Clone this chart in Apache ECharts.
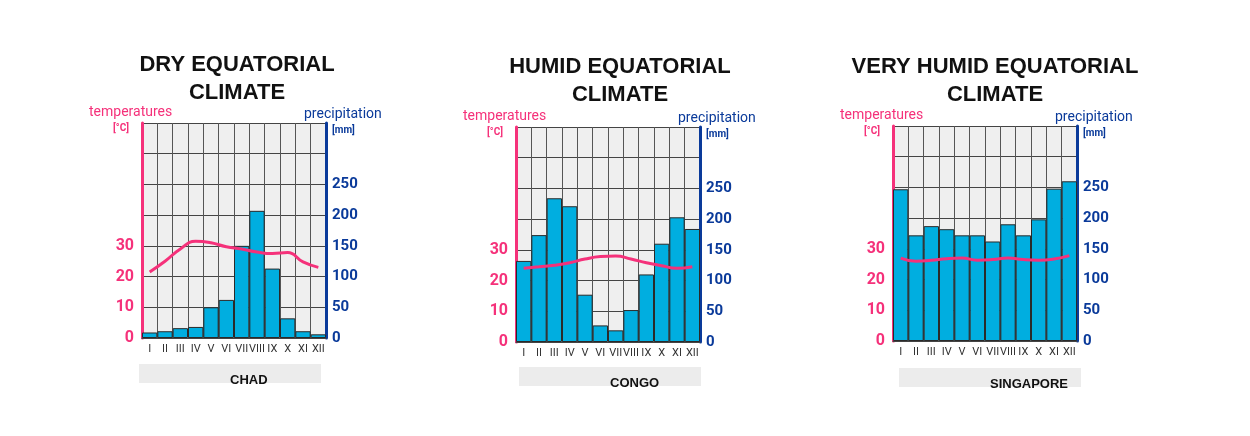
<!DOCTYPE html>
<html><head><meta charset="utf-8">
<script src="https://cdn.jsdelivr.net/npm/echarts@6/dist/echarts.min.js"></script>
<style>html,body{margin:0;background:#fff}#c{width:1250px;height:436px}</style></head>
<body><div id="c"></div>
<script>
const months = ['I','II','III','IV','V','VI','VII','VIII','IX','X','XI','XII'];
const titles = ['DRY EQUATORIAL\nCLIMATE','HUMID EQUATORIAL\nCLIMATE','VERY HUMID EQUATORIAL\nCLIMATE'];
const countries = ['CHAD','CONGO','SINGAPORE'];
const chadPrecip = [9,11,16,18,50,62,150,207,113,32,11,6];
const chadTemp = [21.5,25,29,31.5,31,29.7,29,28,27.5,27.8,24.8,23];
const congoPrecip = [132,174,234,221,77,27,19,52,110,160,203,184];
const congoTemp = [24,24.5,25,25.8,27,27.8,28,27,25.8,24.8,24,24.5];
const singPrecip = [247,172,187,182,172,172,162,190,172,198,248,260];
const singTemp = [27,26,26.3,26.8,27,26.3,26.5,27,26.5,26.3,26.7,27.8];
const precipTicks = [0,50,100,150,200,250];
const tempTicks = [0,10,20,30];

const precips=[chadPrecip,congoPrecip,singPrecip], temps=[chadTemp,congoTemp,singTemp];
const L=[{x:142,top:123,tx:232,ty:46,bx:139,by:364},{x:516,top:127,tx:615,ty:48,bx:519,by:367},{x:893,top:126,tx:990,ty:48,bx:899,by:368}];
const W=184,H=215;
const PINK='#f5317a', BLUE='#0a3a9a', BAR='#00aee0';
const grid=[],xAxis=[],yAxis=[],series=[],graphic=[],title=[];
L.forEach((p,i)=>{
  grid.push({left:p.x,top:p.top,width:W,height:H,show:true,backgroundColor:'#efefef',borderWidth:0});
  xAxis.push({type:'category',gridIndex:i,data:months,axisTick:{show:false},
    axisLine:{lineStyle:{color:'#444',width:1}},
    axisLabel:{color:'#333',fontSize:11,fontFamily:'Roboto',margin:6,interval:0},
    splitLine:{show:true,interval:0,lineStyle:{color:'#555',width:1}}});
  yAxis.push({type:'value',gridIndex:i,min:0,max:70,interval:10,position:'left',
    axisLine:{show:true,lineStyle:{color:PINK,width:3}},axisTick:{show:false},splitLine:{show:false},
    axisLabel:{color:PINK,fontSize:16,fontWeight:'bold',fontFamily:'Roboto',margin:8,
      formatter:v=>tempTicks.includes(v)?String(v):''}});
  yAxis.push({type:'value',gridIndex:i,min:0,max:350,interval:50,position:'right',
    axisLine:{show:true,lineStyle:{color:BLUE,width:3}},axisTick:{show:false},
    splitLine:{show:true,lineStyle:{color:'#444',width:1}},
    axisLabel:{color:BLUE,fontSize:15,fontWeight:'bold',fontFamily:'Roboto',margin:6,
      formatter:v=>precipTicks.includes(v)?String(v):''}});
  series.push({type:'bar',xAxisIndex:i,yAxisIndex:2*i+1,data:precips[i],barCategoryGap:'0%',
    itemStyle:{color:BAR,borderColor:'#2a2a2a',borderWidth:1},z:2});
  series.push({type:'line',xAxisIndex:i,yAxisIndex:2*i,data:temps[i],smooth:true,symbol:'none',
    lineStyle:{color:PINK,width:3},z:5});
  title.push({text:titles[i],left:p.tx,top:p.ty,textAlign:'center',
    textStyle:{fontSize:22,fontWeight:'bold',color:'#111',fontFamily:'Liberation Sans',lineHeight:28}});
  graphic.push({type:'text',left:p.x-53,top:p.top-18,style:{text:'temperatures',fill:PINK,fontSize:14,fontFamily:'Roboto'}});
  graphic.push({type:'text',left:p.x-29,top:p.top,style:{text:'[°C]',fill:PINK,fontSize:10,fontWeight:'bold',fontFamily:'Roboto'}});
  graphic.push({type:'text',left:p.x+W-22,top:p.top-16,style:{text:'precipitation',fill:BLUE,fontSize:14,fontFamily:'Roboto'}});
  graphic.push({type:'text',left:p.x+W+6,top:p.top+2,style:{text:'[mm]',fill:BLUE,fontSize:10,fontWeight:'bold',fontFamily:'Roboto'}});
  graphic.push({type:'rect',left:p.bx,top:p.by,shape:{width:182,height:19},style:{fill:'#ececec'}});
  graphic.push({type:'text',left:p.bx+91,top:p.by+10,style:{text:countries[i],fill:'#111',fontSize:13,fontWeight:'bold',fontFamily:'Liberation Sans',align:'center',verticalAlign:'middle'}});
});
const chart=echarts.init(document.getElementById('c'));
chart.setOption({animation:false,title,grid,xAxis,yAxis,series,graphic});
</script></body></html>
